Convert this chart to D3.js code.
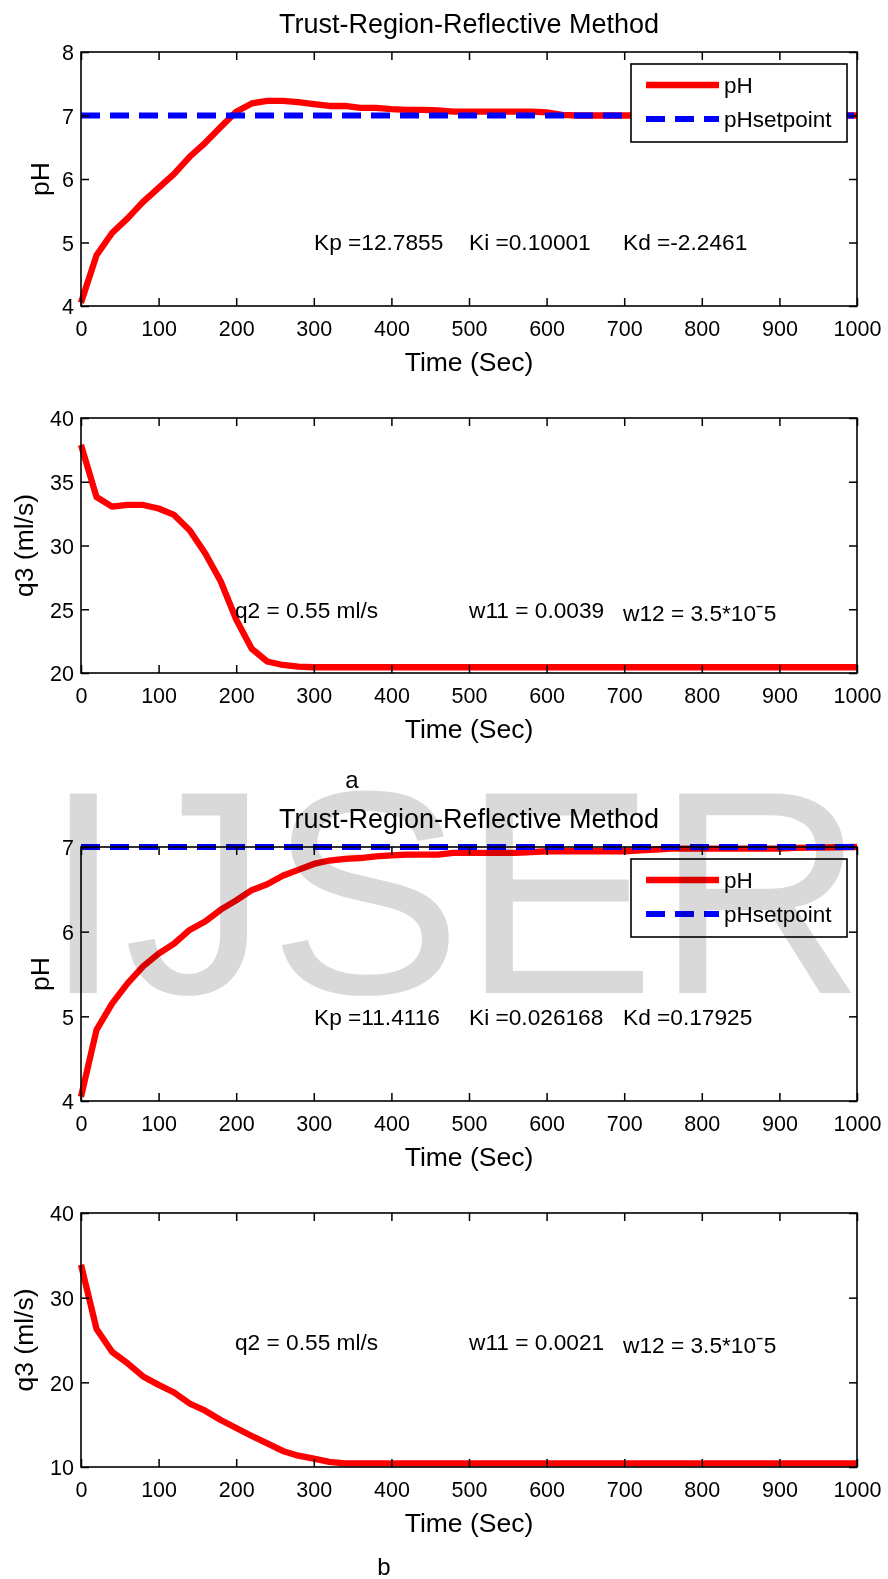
<!DOCTYPE html>
<html>
<head>
<meta charset="utf-8">
<script src="https://cdn.jsdelivr.net/npm/d3@7"></script>
<style>
  html, body { margin: 0; padding: 0; background: #fff; }
  svg { display: block; }
  text { font-family: "Liberation Sans", Arial, sans-serif; }
</style>
</head>
<body>
<svg id="chart" width="888" height="1579"></svg>
<script>
// ---------------- DATA ----------------
const xTicks = [0, 100, 200, 300, 400, 500, 600, 700, 800, 900, 1000];

// (a) pH response
const timeA_pH = [0,20,40,60,80,100,120,140,160,180,200,220,240,260,280,300,320,340,360,380,400,420,440,460,480,500,520,540,560,580,600,620,640,1000];
const pH_A     = [4.05,4.80,5.15,5.38,5.64,5.86,6.08,6.35,6.57,6.82,7.06,7.19,7.23,7.23,7.21,7.18,7.15,7.15,7.12,7.12,7.10,7.09,7.09,7.08,7.06,7.06,7.06,7.06,7.06,7.06,7.05,7.01,7.00,7.00];
// (a) q3 control signal
const timeA_q3 = [0,20,40,60,80,100,120,140,160,180,200,220,240,260,280,300,1000];
const q3_A     = [37.9,33.8,33.05,33.18,33.18,32.9,32.4,31.2,29.4,27.2,24.2,21.9,20.9,20.63,20.5,20.45,20.45];

// (b) pH response
const timeB_pH = [0,20,40,60,80,100,120,140,160,180,200,220,240,260,280,300,320,340,360,380,400,420,440,460,480,500,520,540,560,580,600,620,640,660,680,700,720,740,760,900,920,1000];
const pH_B     = [4.05,4.84,5.15,5.39,5.59,5.74,5.86,6.02,6.12,6.26,6.37,6.49,6.56,6.66,6.73,6.80,6.84,6.86,6.87,6.89,6.90,6.91,6.91,6.91,6.93,6.93,6.93,6.93,6.93,6.94,6.95,6.95,6.95,6.95,6.95,6.95,6.96,6.97,6.98,6.98,6.99,7.00];
// (b) q3 control signal
const timeB_q3 = [0,20,40,60,80,100,120,140,160,180,200,220,240,260,280,300,320,340,1000];
const q3_B     = [33.9,26.3,23.6,22.25,20.7,19.7,18.8,17.5,16.65,15.55,14.6,13.66,12.8,11.9,11.34,10.98,10.6,10.43,10.43];

// setpoint
const timeSet = [0, 1000];
const pHset   = [7, 7];

// axis tick labels
const yTicks1 = [4, 5, 6, 7, 8];
const yTicks2 = [20, 25, 30, 35, 40];
const yTicks3 = [4, 5, 6, 7];
const yTicks4 = [10, 20, 30, 40];

const titleText = "Trust-Region-Reflective Method";
const xLabel = "Time (Sec)";
const legendLabels = ["pH", "pHsetpoint"];
const gainsA = ["Kp =12.7855", "Ki =0.10001", "Kd =-2.2461"];
const gainsB = ["Kp =11.4116", "Ki =0.026168", "Kd =0.17925"];
const paramsA = ["q2 = 0.55 ml/s", "w11 = 0.0039", "w12 = 3.5*10ˉ5"];
const paramsB = ["q2 = 0.55 ml/s", "w11 = 0.0021", "w12 = 3.5*10ˉ5"];

// ---------------- LAYOUT ----------------
const svg = d3.select("#chart");
const X0 = 81, X1 = 857;
const x = d3.scaleLinear().domain([0, 1000]).range([X0, X1]);
const RED = "#ff0000", BLUE = "#0000ff";
const RED_W = 6.3, BLUE_W = 5.8, DASH = "19,10";
const TICK_FS = 21.5, LABEL_FS = 26.5, TITLE_FS = 27, NOTE_FS = 22.7;

function panel(cfg) {
  const y = d3.scaleLinear().domain(cfg.domain).range([cfg.bottom, cfg.top]);
  const g = svg.append("g");
  const line = d3.line().x(d => x(d[0])).y(d => y(d[1]));

  // series
  cfg.series.forEach(s => {
    const pts = s.t.map((t, i) => [t, s.v[i]]);
    g.append("path").attr("d", line(pts))
      .attr("fill", "none").attr("stroke", s.color).attr("stroke-width", s.width)
      .attr("stroke-dasharray", s.dash || null)
      .attr("stroke-linejoin", "round");
  });

  // axes (ticks inward)
  const ax = g.append("g").attr("class", "axes");
  const bottom = ax.append("g").attr("transform", `translate(0,${cfg.bottom})`)
    .call(d3.axisBottom(x).tickValues(xTicks).tickSizeInner(-8).tickSizeOuter(0).tickFormat(d3.format("d")));
  bottom.selectAll("text").attr("y", 29.5).attr("dy", null);
  ax.append("g").attr("transform", `translate(0,${cfg.top})`)
    .call(d3.axisTop(x).tickValues(xTicks).tickSizeInner(-8).tickSizeOuter(0).tickFormat(""));
  const left = ax.append("g").attr("transform", `translate(${X0},0)`)
    .call(d3.axisLeft(y).tickValues(cfg.ticks).tickSizeInner(-8).tickSizeOuter(0).tickFormat(d3.format("d")));
  left.selectAll("text").attr("x", -7).attr("dy", "0.36em");
  ax.append("g").attr("transform", `translate(${X1},0)`)
    .call(d3.axisRight(y).tickValues(cfg.ticks).tickSizeInner(-8).tickSizeOuter(0).tickFormat(""));
  ax.selectAll(".domain").remove();
  ax.selectAll(".tick line").attr("stroke", "#000").attr("stroke-width", 1.5);
  ax.selectAll("text").attr("font-size", TICK_FS).attr("fill", "#000")
    .attr("font-family", "'Liberation Sans', Arial, sans-serif");
  ax.append("rect").attr("x", X0).attr("y", cfg.top).attr("width", X1 - X0).attr("height", cfg.bottom - cfg.top)
    .attr("fill", "none").attr("stroke", "#000").attr("stroke-width", 1.6);

  // labels
  g.append("text").attr("x", (X0 + X1) / 2).attr("y", cfg.bottom + 65)
    .attr("text-anchor", "middle").attr("font-size", LABEL_FS).attr("fill", "#000").text(xLabel);
  g.append("text").attr("transform", `translate(${cfg.ylabX},${(cfg.top + cfg.bottom) / 2}) rotate(-90)`)
    .attr("text-anchor", "middle").attr("font-size", LABEL_FS).attr("fill", "#000").text(cfg.ylabel);
  if (cfg.title) {
    g.append("text").attr("x", (X0 + X1) / 2).attr("y", cfg.top - 19.5)
      .attr("text-anchor", "middle").attr("font-size", TITLE_FS).attr("fill", "#000").text(cfg.title);
  }

  // annotations
  cfg.notes.forEach(n => {
    g.append("text").attr("x", n.x).attr("y", n.y).attr("font-size", NOTE_FS).attr("fill", "#000").text(n.text);
  });

  // legend
  if (cfg.legend) {
    const lx = 631, ly = cfg.top + 12, lw = 216, lh = 78;
    const lg = g.append("g");
    lg.append("rect").attr("x", lx).attr("y", ly).attr("width", lw).attr("height", lh)
      .attr("fill", "#fff").attr("stroke", "#000").attr("stroke-width", 1.6);
    const items = [
      { label: legendLabels[0], color: RED, dash: null, w: RED_W, dy: 21 },
      { label: legendLabels[1], color: BLUE, dash: DASH, w: BLUE_W, dy: 55 }
    ];
    items.forEach(it => {
      lg.append("line").attr("x1", lx + 15).attr("x2", lx + 88)
        .attr("y1", ly + it.dy).attr("y2", ly + it.dy)
        .attr("stroke", it.color).attr("stroke-width", it.w).attr("stroke-dasharray", it.dash);
      lg.append("text").attr("x", lx + 93).attr("y", ly + it.dy + 8).attr("font-size", 22.5)
        .attr("fill", "#000").text(it.label);
    });
  }
}

panel({
  top: 52, bottom: 306, domain: [4, 8], ticks: yTicks1, ylabel: "pH", ylabX: 49, title: titleText, legend: true,
  series: [
    { t: timeA_pH, v: pH_A, color: RED, width: RED_W },
    { t: timeSet, v: pHset, color: BLUE, width: BLUE_W, dash: DASH }
  ],
  notes: [
    { x: 314, y: 250, text: gainsA[0] }, { x: 469, y: 250, text: gainsA[1] }, { x: 623, y: 250, text: gainsA[2] }
  ]
});
panel({
  top: 418, bottom: 673, domain: [20, 40], ticks: yTicks2, ylabel: "q3 (ml/s)", ylabX: 33,
  series: [{ t: timeA_q3, v: q3_A, color: RED, width: RED_W }],
  notes: [
    { x: 235, y: 618, text: paramsA[0] }, { x: 469, y: 618, text: paramsA[1] }, { x: 623, y: 621, text: paramsA[2] }
  ]
});
panel({
  top: 847, bottom: 1101, domain: [4, 7], ticks: yTicks3, ylabel: "pH", ylabX: 49, title: titleText, legend: true,
  series: [
    { t: timeB_pH, v: pH_B, color: RED, width: RED_W },
    { t: timeSet, v: pHset, color: BLUE, width: BLUE_W, dash: DASH }
  ],
  notes: [
    { x: 314, y: 1025, text: gainsB[0] }, { x: 469, y: 1025, text: gainsB[1] }, { x: 623, y: 1025, text: gainsB[2] }
  ]
});
panel({
  top: 1213, bottom: 1467, domain: [10, 40], ticks: yTicks4, ylabel: "q3 (ml/s)", ylabX: 33,
  series: [{ t: timeB_q3, v: q3_B, color: RED, width: RED_W }],
  notes: [
    { x: 235, y: 1350, text: paramsB[0] }, { x: 469, y: 1350, text: paramsB[1] }, { x: 623, y: 1353, text: paramsB[2] }
  ]
});

// sub-figure captions
svg.append("text").attr("x", 352).attr("y", 788).attr("text-anchor", "middle").attr("font-size", 24)
  .attr("fill", "#000").text("a");
svg.append("text").attr("x", 384).attr("y", 1575).attr("text-anchor", "middle").attr("font-size", 24)
  .attr("fill", "#000").text("b");

// watermark (multiplied over the figure)
svg.append("text").attr("x", 43).attr("y", 993).attr("font-size", 290)
  .style("fill", "#d9d9d9").style("mix-blend-mode", "multiply").text("IJSER");
</script>
</body>
</html>
